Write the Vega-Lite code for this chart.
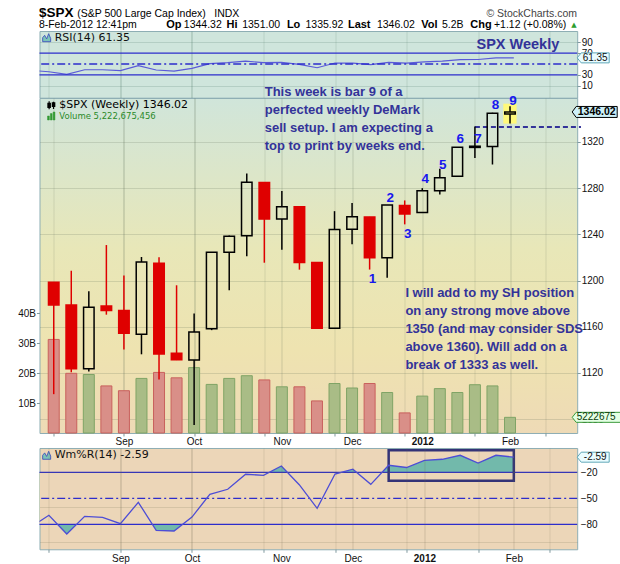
{
"$schema":"https://vega.github.io/schema/vega-lite/v6.json",
"usermeta":{"embedOptions":{"actions":false}},
"background":"#ffffff",
"padding":{"left":16.5,"top":5,"right":0,"bottom":0},
"config":{"view":{"stroke":"#8eaeb4"},"axis":{"labelFont":"Liberation Sans","labelFontSize":10,"labelColor":"#111111","tickColor":"#7f9a9f","tickSize":3,"labelPadding":1,"domain":false,"labelOverlap":false},"text":{"font":"Liberation Sans"},"point":{"opacity":1}},
"datasets":{
"weekly":[
{"date":"2011-08-08","open":1198.48,"high":1198.48,"low":1101.54,"close":1178.81,"volume":31200000000},
{"date":"2011-08-15","open":1178.86,"high":1208.47,"low":1120.5,"close":1123.53,"volume":19900000000},
{"date":"2011-08-22","open":1123.55,"high":1190.68,"low":1121.09,"close":1176.8,"volume":19500000000},
{"date":"2011-08-29","open":1177.91,"high":1230.71,"low":1170.4,"close":1173.97,"volume":15700000000},
{"date":"2011-09-05","open":1173.97,"high":1204.4,"low":1140.13,"close":1154.23,"volume":14100000000},
{"date":"2011-09-12","open":1153.5,"high":1220.39,"low":1136.07,"close":1216.01,"volume":18200000000},
{"date":"2011-09-19","open":1214.99,"high":1220.06,"low":1114.22,"close":1136.43,"volume":20200000000},
{"date":"2011-09-26","open":1136.91,"high":1195.86,"low":1131.07,"close":1131.42,"volume":18400000000},
{"date":"2011-10-03","open":1131.21,"high":1171.4,"low":1074.77,"close":1155.46,"volume":21800000000},
{"date":"2011-10-10","open":1158.15,"high":1224.61,"low":1157.0,"close":1224.58,"volume":16200000000},
{"date":"2011-10-17","open":1224.47,"high":1239.0,"low":1191.48,"close":1238.25,"volume":18200000000},
{"date":"2011-10-24","open":1238.72,"high":1292.66,"low":1221.0,"close":1285.09,"volume":19100000000},
{"date":"2011-10-31","open":1284.96,"high":1284.96,"low":1215.42,"close":1253.23,"volume":17700000000},
{"date":"2011-11-07","open":1253.21,"high":1277.55,"low":1226.64,"close":1263.85,"volume":15400000000},
{"date":"2011-11-14","open":1263.85,"high":1264.25,"low":1209.4,"close":1215.65,"volume":15400000000},
{"date":"2011-11-21","open":1215.62,"high":1215.62,"low":1158.66,"close":1158.67,"volume":10700000000},
{"date":"2011-11-28","open":1158.67,"high":1260.08,"low":1158.66,"close":1244.28,"volume":16500000000},
{"date":"2011-12-05","open":1244.33,"high":1267.06,"low":1231.47,"close":1255.19,"volume":15000000000},
{"date":"2011-12-12","open":1255.05,"high":1255.09,"low":1209.47,"close":1219.66,"volume":16500000000},
{"date":"2011-12-19","open":1219.74,"high":1265.42,"low":1202.37,"close":1265.33,"volume":13500000000},
{"date":"2011-12-26","open":1265.02,"high":1269.37,"low":1248.64,"close":1257.6,"volume":6700000000},
{"date":"2012-01-02","open":1258.86,"high":1280.0,"low":1258.86,"close":1277.81,"volume":12300000000},
{"date":"2012-01-09","open":1277.83,"high":1296.82,"low":1274.55,"close":1289.09,"volume":14800000000},
{"date":"2012-01-16","open":1290.22,"high":1315.49,"low":1290.22,"close":1315.38,"volume":13500000000},
{"date":"2012-01-23","open":1315.29,"high":1333.47,"low":1306.06,"close":1316.33,"volume":16100000000},
{"date":"2012-01-30","open":1316.16,"high":1345.34,"low":1300.49,"close":1344.9,"volume":15700000000},
{"date":"2012-02-06","open":1344.32,"high":1351.0,"low":1335.92,"close":1346.02,"volume":5222675456}
],
"ind":[
{"date":"2011-08-01","rsi":38.2,"wr":-83},
{"date":"2011-08-08","rsi":35.7,"wr":-69.6},
{"date":"2011-08-15","rsi":30.8,"wr":-91.2},
{"date":"2011-08-22","rsi":39.4,"wr":-70.8},
{"date":"2011-08-29","rsi":39.4,"wr":-71.9},
{"date":"2011-09-05","rsi":37.6,"wr":-79.3},
{"date":"2011-09-12","rsi":46.9,"wr":-54.6},
{"date":"2011-09-19","rsi":38.9,"wr":-86.9},
{"date":"2011-09-26","rsi":37.0,"wr":-87.7},
{"date":"2011-10-03","rsi":41.9,"wr":-71.6},
{"date":"2011-10-10","rsi":50.6,"wr":-45.4},
{"date":"2011-10-17","rsi":52.4,"wr":-39.6},
{"date":"2011-10-24","rsi":55.5,"wr":-22.3},
{"date":"2011-10-31","rsi":52.4,"wr":-23.5},
{"date":"2011-11-07","rsi":53.0,"wr":-12.7},
{"date":"2011-11-14","rsi":49.3,"wr":-34.3},
{"date":"2011-11-21","rsi":43.1,"wr":-61.5},
{"date":"2011-11-28","rsi":51.8,"wr":-22.0},
{"date":"2011-12-05","rsi":51.8,"wr":-16.5},
{"date":"2011-12-12","rsi":48.7,"wr":-33.9},
{"date":"2011-12-19","rsi":53.0,"wr":-11.9},
{"date":"2011-12-26","rsi":51.8,"wr":-14.5},
{"date":"2012-01-02","rsi":54.0,"wr":-6.2},
{"date":"2012-01-09","rsi":55.5,"wr":-5.0},
{"date":"2012-01-16","rsi":58.0,"wr":-0.4},
{"date":"2012-01-23","rsi":58.3,"wr":-9.3},
{"date":"2012-01-30","rsi":61.5,"wr":-0.4},
{"date":"2012-02-06","rsi":61.35,"wr":-2.59}
],
"counts":[
{"date":"2011-12-12","y":1201,"n":"1"},
{"date":"2011-12-19","y":1271.5,"n":"2"},
{"date":"2011-12-26","y":1240,"n":"3"},
{"date":"2012-01-02","y":1287.7,"n":"4"},
{"date":"2012-01-09","y":1300.3,"n":"5"},
{"date":"2012-01-16","y":1322.9,"n":"6"},
{"date":"2012-01-23","y":1322.9,"n":"7"},
{"date":"2012-01-30","y":1351.8,"n":"8"},
{"date":"2012-02-06","y":1355.5,"n":"9"}
]
},
"bounds":"full",
"spacing":-3,
"vconcat":[
{"bounds":"flush","spacing":0,"vconcat":[
{
"width":537.7,"height":66.7,
"view":{"fill":"#cfe5dc","stroke":"#8eaeb4"},
"data":{"name":"ind"},
"resolve":{"axis":{"y":"independent"}},
"layer":[
{"layer":[
{"mark":{"type":"line","color":"#5a5ad8","strokeWidth":1.2,"clip":true},
 "encoding":{
  "x":{"field":"date","type":"temporal","scale":{"type":"utc","nice":false,"domain":[{"year":2011,"month":8,"date":4,"hours":7,"minutes":40,"utc":true},{"year":2012,"month":3,"date":1,"hours":19,"minutes":12,"utc":true}]},
   "axis":{"title":null,"labels":false,"ticks":false,"domain":false,"grid":true,
    "values":[{"year":2011,"month":8,"date":8,"utc":true},{"year":2011,"month":8,"date":15,"utc":true},{"year":2011,"month":8,"date":22,"utc":true},{"year":2011,"month":8,"date":29,"utc":true},{"year":2011,"month":9,"date":5,"utc":true},{"year":2011,"month":9,"date":12,"utc":true},{"year":2011,"month":9,"date":19,"utc":true},{"year":2011,"month":9,"date":26,"utc":true},{"year":2011,"month":10,"date":3,"utc":true},{"year":2011,"month":10,"date":10,"utc":true},{"year":2011,"month":10,"date":17,"utc":true},{"year":2011,"month":10,"date":24,"utc":true},{"year":2011,"month":10,"date":31,"utc":true},{"year":2011,"month":11,"date":7,"utc":true},{"year":2011,"month":11,"date":14,"utc":true},{"year":2011,"month":11,"date":21,"utc":true},{"year":2011,"month":11,"date":28,"utc":true},{"year":2011,"month":12,"date":5,"utc":true},{"year":2011,"month":12,"date":12,"utc":true},{"year":2011,"month":12,"date":19,"utc":true},{"year":2011,"month":12,"date":26,"utc":true},{"year":2012,"month":1,"date":2,"utc":true},{"year":2012,"month":1,"date":9,"utc":true},{"year":2012,"month":1,"date":16,"utc":true},{"year":2012,"month":1,"date":23,"utc":true},{"year":2012,"month":1,"date":30,"utc":true},{"year":2012,"month":2,"date":6,"utc":true},{"year":2012,"month":2,"date":13,"utc":true},{"year":2012,"month":2,"date":20,"utc":true},{"year":2012,"month":2,"date":27,"utc":true}],
    "gridColor":{"condition":{"test":"utcdate(datum.value) <= 7","value":"rgba(70,110,95,0.38)"},"value":"rgba(70,110,95,0.17)"}}},
  "y":{"field":"rsi","type":"quantitative","scale":{"domain":[-12.4,111.1],"nice":false,"zero":false},
   "axis":{"orient":"right","title":null,"values":[10,50,90],"grid":true,"gridColor":"rgba(70,110,95,0.2)","tickSize":3,"labelPadding":1,"maxExtent":0,"minExtent":0}}
 }},
{"data":{"values":[{}]},"mark":{"type":"rule","color":"#2d2dcc","strokeWidth":1.3},"encoding":{"y":{"datum":70}}},
{"data":{"values":[{}]},"mark":{"type":"rule","color":"#2d2dcc","strokeWidth":1.3,"strokeDash":[8,3,2,3]},"encoding":{"y":{"datum":50}}},
{"data":{"values":[{}]},"mark":{"type":"text","text":"SPX Weekly","fontSize":14.5,"fontWeight":"bold","color":"#333399","align":"center","baseline":"middle"},"encoding":{"x":{"datum":{"year":2012,"month":2,"date":7,"hours":14,"utc":true},"type":"temporal"},"y":{"datum":85.2}}},
{"data":{"values":[{}]},"mark":{"type":"point","shape":"M-1,1L-1,0L-0.5,-0.6L0,0.3L0.5,-1L1,0.2L1,1Z","size":64,"filled":true,"fill":"#7cc4b8","stroke":"#3344bb","strokeWidth":0.8,"opacity":1},"encoding":{"x":{"datum":{"year":2011,"month":8,"date":7,"hours":3,"utc":true},"type":"temporal"},"y":{"datum":98.7}}},
{"data":{"values":[{}]},"mark":{"type":"text","text":"RSI(14) 61.35","font":"DejaVu Sans","fontSize":11,"color":"#111111","align":"left","baseline":"middle"},"encoding":{"x":{"datum":{"year":2011,"month":8,"date":10,"hours":6,"utc":true},"type":"temporal"},"y":{"datum":98.7}}},
{"data":{"values":[{}]},"mark":{"type":"text","text":"$SPX","fontSize":13.5,"fontWeight":"bold","color":"#000000","align":"left","baseline":"alphabetic"},"encoding":{"x":{"datum":{"year":2011,"month":8,"date":4,"hours":2,"utc":true},"type":"temporal"},"y":{"datum":136.3}}},
{"data":{"values":[{}]},"mark":{"type":"text","text":"(S&P 500 Large Cap Index)","fontSize":10.5,"color":"#000000","align":"left","baseline":"alphabetic"},"encoding":{"x":{"datum":{"year":2011,"month":8,"date":19,"hours":2,"utc":true},"type":"temporal"},"y":{"datum":136.3}}},
{"data":{"values":[{}]},"mark":{"type":"text","text":"INDX","fontSize":10.5,"color":"#000000","align":"left","baseline":"alphabetic"},"encoding":{"x":{"datum":{"year":2011,"month":10,"date":11,"hours":18,"utc":true},"type":"temporal"},"y":{"datum":136.3}}},
{"data":{"values":[{}]},"mark":{"type":"text","text":"© StockCharts.com","fontSize":10.5,"color":"#444444","align":"right","baseline":"alphabetic"},"encoding":{"x":{"datum":{"year":2012,"month":3,"date":1,"hours":17,"utc":true},"type":"temporal"},"y":{"datum":136.3}}},
{"data":{"values":[{}]},"mark":{"type":"text","text":"8-Feb-2012 12:41pm","fontSize":10.5,"color":"#000000","align":"left","baseline":"alphabetic"},"encoding":{"x":{"datum":{"year":2011,"month":8,"date":4,"hours":2,"utc":true},"type":"temporal"},"y":{"datum":116.3}}},
{"data":{"values":[{}]},"mark":{"type":"text","text":"Op","fontSize":11,"fontWeight":"bold","color":"#000000","align":"left","baseline":"alphabetic"},"encoding":{"x":{"datum":{"year":2011,"month":9,"date":22,"hours":22,"utc":true},"type":"temporal"},"y":{"datum":116.3}}},
{"data":{"values":[{}]},"mark":{"type":"text","text":"1344.32","fontSize":10.5,"color":"#000000","align":"left","baseline":"alphabetic"},"encoding":{"x":{"datum":{"year":2011,"month":9,"date":29,"hours":20,"utc":true},"type":"temporal"},"y":{"datum":116.3}}},
{"data":{"values":[{}]},"mark":{"type":"text","text":"Hi","fontSize":11,"fontWeight":"bold","color":"#000000","align":"left","baseline":"alphabetic"},"encoding":{"x":{"datum":{"year":2011,"month":10,"date":16,"hours":12,"utc":true},"type":"temporal"},"y":{"datum":116.3}}},
{"data":{"values":[{}]},"mark":{"type":"text","text":"1351.00","fontSize":10.5,"color":"#000000","align":"left","baseline":"alphabetic"},"encoding":{"x":{"datum":{"year":2011,"month":10,"date":22,"hours":16,"utc":true},"type":"temporal"},"y":{"datum":116.3}}},
{"data":{"values":[{}]},"mark":{"type":"text","text":"Lo","fontSize":11,"fontWeight":"bold","color":"#000000","align":"left","baseline":"alphabetic"},"encoding":{"x":{"datum":{"year":2011,"month":11,"date":9,"hours":4,"utc":true},"type":"temporal"},"y":{"datum":116.3}}},
{"data":{"values":[{}]},"mark":{"type":"text","text":"1335.92","fontSize":10.5,"color":"#000000","align":"left","baseline":"alphabetic"},"encoding":{"x":{"datum":{"year":2011,"month":11,"date":16,"hours":11,"utc":true},"type":"temporal"},"y":{"datum":116.3}}},
{"data":{"values":[{}]},"mark":{"type":"text","text":"Last","fontSize":11,"fontWeight":"bold","color":"#000000","align":"left","baseline":"alphabetic"},"encoding":{"x":{"datum":{"year":2011,"month":12,"date":3,"hours":1,"minutes":30,"utc":true},"type":"temporal"},"y":{"datum":116.3}}},
{"data":{"values":[{}]},"mark":{"type":"text","text":"1346.02","fontSize":10.5,"color":"#000000","align":"left","baseline":"alphabetic"},"encoding":{"x":{"datum":{"year":2011,"month":12,"date":14,"hours":10,"utc":true},"type":"temporal"},"y":{"datum":116.3}}},
{"data":{"values":[{}]},"mark":{"type":"text","text":"Vol","fontSize":11,"fontWeight":"bold","color":"#000000","align":"left","baseline":"alphabetic"},"encoding":{"x":{"datum":{"year":2011,"month":12,"date":31,"hours":18,"utc":true},"type":"temporal"},"y":{"datum":116.3}}},
{"data":{"values":[{}]},"mark":{"type":"text","text":"5.2B","fontSize":10.5,"color":"#000000","align":"left","baseline":"alphabetic"},"encoding":{"x":{"datum":{"year":2012,"month":1,"date":8,"hours":20,"minutes":40,"utc":true},"type":"temporal"},"y":{"datum":116.3}}},
{"data":{"values":[{}]},"mark":{"type":"text","text":"Chg","fontSize":11,"fontWeight":"bold","color":"#000000","align":"left","baseline":"alphabetic"},"encoding":{"x":{"datum":{"year":2012,"month":1,"date":19,"hours":22,"minutes":30,"utc":true},"type":"temporal"},"y":{"datum":116.3}}},
{"data":{"values":[{}]},"mark":{"type":"text","text":"+1.12 (+0.08%)","fontSize":10.5,"color":"#000000","align":"left","baseline":"alphabetic"},"encoding":{"x":{"datum":{"year":2012,"month":1,"date":29,"hours":5,"utc":true},"type":"temporal"},"y":{"datum":116.3}}},
{"data":{"values":[{}]},"mark":{"type":"text","text":"▲","font":"DejaVu Sans","fontSize":7,"color":"#2e9e2e","align":"center","baseline":"middle"},"encoding":{"x":{"datum":{"year":2012,"month":2,"date":29,"hours":12,"utc":true},"type":"temporal"},"y":{"datum":122.8}}}
]},
{"data":{"values":[{}]},"mark":{"type":"rule","color":"#2d2dcc","strokeWidth":1.3},
 "encoding":{"y":{"datum":30,"type":"quantitative","axis":{"orient":"right","title":null,"values":[30,70],"grid":false,"tickSize":3,"labelPadding":1}}}},
{"data":{"values":[{}]},"mark":{"type":"point","shape":"M0,0L0.25,-0.3125L2,-0.3125L2,0.3125L0.25,0.3125Z","size":1024,"filled":true,"fill":"#eafcff","stroke":"#5fa8b8","strokeWidth":1,"opacity":1},"encoding":{"x":{"datum":{"year":2012,"month":3,"date":1,"hours":19,"minutes":12,"utc":true},"type":"temporal"},"y":{"datum":61.35,"type":"quantitative","axis":null}}},
{"data":{"values":[{}]},"mark":{"type":"text","text":"61.35","fontSize":10,"color":"#111111","align":"center","baseline":"middle","dx":18},"encoding":{"x":{"datum":{"year":2012,"month":3,"date":1,"hours":19,"minutes":12,"utc":true},"type":"temporal"},"y":{"datum":61.35,"type":"quantitative","axis":null}}}
]
},
{
"width":537.7,"height":335,
"view":{"stroke":"#8eaeb4","fill":{"gradient":"linear","x1":0,"y1":0,"x2":0,"y2":1,"stops":[{"offset":0,"color":"#d0e5da"},{"offset":0.45,"color":"#e8e7b8"},{"offset":0.75,"color":"#eee3b0"},{"offset":1,"color":"#eedab6"}]}},
"resolve":{"scale":{"y":"independent"},"axis":{"x":"independent"}},
"layer":[
{"data":{"name":"weekly"},"layer":[
 {"mark":{"type":"bar","width":11,"strokeWidth":1},
  "encoding":{
   "x":{"field":"date","type":"temporal","scale":{"type":"utc","nice":false,"domain":[{"year":2011,"month":8,"date":4,"hours":7,"minutes":40,"utc":true},{"year":2012,"month":3,"date":1,"hours":19,"minutes":12,"utc":true}]},
    "axis":{"orient":"bottom","title":null,"domain":false,"grid":true,"labels":false,"ticks":true,"tickSize":3,"maxExtent":0,"minExtent":0,
     "values":[{"year":2011,"month":8,"date":8,"utc":true},{"year":2011,"month":8,"date":15,"utc":true},{"year":2011,"month":8,"date":22,"utc":true},{"year":2011,"month":8,"date":29,"utc":true},{"year":2011,"month":9,"date":5,"utc":true},{"year":2011,"month":9,"date":12,"utc":true},{"year":2011,"month":9,"date":19,"utc":true},{"year":2011,"month":9,"date":26,"utc":true},{"year":2011,"month":10,"date":3,"utc":true},{"year":2011,"month":10,"date":10,"utc":true},{"year":2011,"month":10,"date":17,"utc":true},{"year":2011,"month":10,"date":24,"utc":true},{"year":2011,"month":10,"date":31,"utc":true},{"year":2011,"month":11,"date":7,"utc":true},{"year":2011,"month":11,"date":14,"utc":true},{"year":2011,"month":11,"date":21,"utc":true},{"year":2011,"month":11,"date":28,"utc":true},{"year":2011,"month":12,"date":5,"utc":true},{"year":2011,"month":12,"date":12,"utc":true},{"year":2011,"month":12,"date":19,"utc":true},{"year":2011,"month":12,"date":26,"utc":true},{"year":2012,"month":1,"date":2,"utc":true},{"year":2012,"month":1,"date":9,"utc":true},{"year":2012,"month":1,"date":16,"utc":true},{"year":2012,"month":1,"date":23,"utc":true},{"year":2012,"month":1,"date":30,"utc":true},{"year":2012,"month":2,"date":6,"utc":true},{"year":2012,"month":2,"date":13,"utc":true},{"year":2012,"month":2,"date":20,"utc":true},{"year":2012,"month":2,"date":27,"utc":true}],
     "gridColor":"rgba(90,105,85,0.16)"}},
   "y":{"field":"volume","type":"quantitative","scale":{"domain":[0,111700000000],"nice":false},
    "axis":{"orient":"left","title":null,"grid":false,"values":[10000000000,20000000000,30000000000,40000000000],"labelExpr":"(datum.value/1e9) + 'B'","tickSize":3,"labelPadding":1}},
   "fill":{"condition":{"test":"datum.close < datum.open","value":"#d98f88"},"value":"#a9bc86"},
   "stroke":{"condition":{"test":"datum.close < datum.open","value":"#c9605c"},"value":"#80a465"}
  }},
 {"data":{"values":[{}]},"mark":{"type":"point","shape":"M0,0L0.16,-0.2L2,-0.2L2,0.2L0.16,0.2Z","size":2500,"filled":true,"fill":"#e4ffe4","stroke":"#3a9a3a","strokeWidth":1,"opacity":1},"encoding":{"x":{"datum":{"year":2012,"month":3,"date":1,"hours":19,"minutes":12,"utc":true},"type":"temporal"},"y":{"datum":5222675456}}},
 {"data":{"values":[{}]},"mark":{"type":"text","text":"5222675","fontSize":10,"color":"#0a3a0a","align":"left","baseline":"middle","dx":4.5},"encoding":{"x":{"datum":{"year":2012,"month":3,"date":1,"hours":19,"minutes":12,"utc":true},"type":"temporal"},"y":{"datum":5222675456}}}
]},
{"layer":[
 {"data":{"values":[{}]},"mark":{"type":"rect","color":"#fff97a"},"encoding":{"x":{"datum":{"year":2012,"month":2,"date":3,"hours":7,"minutes":30,"utc":true},"type":"temporal"},"x2":{"datum":{"year":2012,"month":2,"date":8,"hours":15,"utc":true}},"y":{"datum":1353.2,"type":"quantitative"},"y2":{"datum":1335.9}}},
 {"data":{"values":[{}]},"mark":{"type":"rule","color":"#333399","strokeWidth":2,"strokeDash":[5,3]},"encoding":{"x":{"datum":{"year":2012,"month":1,"date":23,"utc":true},"type":"temporal"},"x2":{"datum":{"year":2012,"month":3,"date":5,"hours":7,"utc":true}},"y":{"datum":1333,"type":"quantitative"}}},
 {"data":{"name":"weekly"},"mark":{"type":"rule","strokeWidth":1.5},
  "encoding":{
   "x":{"field":"date","type":"temporal",
    "axis":{"orient":"bottom","title":null,"domain":false,"grid":true,"ticks":false,"labelPadding":4,"labelFlush":false,"labelOverlap":false,
     "values":[{"year":2011,"month":9,"date":5,"utc":true},{"year":2011,"month":10,"date":3,"utc":true},{"year":2011,"month":11,"date":7,"utc":true},{"year":2011,"month":12,"date":5,"utc":true},{"year":2012,"month":1,"date":2,"utc":true},{"year":2012,"month":2,"date":6,"utc":true}],
     "labelExpr":"utcmonth(datum.value) == 0 ? utcFormat(datum.value, '%Y') : utcFormat(datum.value, '%b')",
     "labelFontWeight":{"condition":{"test":"utcmonth(datum.value) == 0","value":"bold"},"value":"normal"},
     "gridColor":"rgba(90,105,85,0.24)"}},
   "y":{"field":"high","type":"quantitative","scale":{"domain":[1067.9,1358.1],"nice":false,"zero":false},
    "axis":{"orient":"right","title":null,"grid":true,"format":"d","gridColor":"rgba(90,105,85,0.2)","values":[1080,1100,1120,1140,1160,1180,1200,1220,1240,1260,1280,1300,1320,1340],"tickSize":3,"labelPadding":1}},
   "y2":{"field":"close"},
   "color":{"condition":{"test":"datum.close < datum.open","value":"#df0000"},"value":"#000000"}}},
 {"data":{"name":"weekly"},"mark":{"type":"rule","strokeWidth":1.5},
  "encoding":{
   "x":{"field":"date","type":"temporal"},
   "y":{"field":"low","type":"quantitative"},
   "y2":{"field":"open"},
   "color":{"condition":{"test":"datum.close < datum.open","value":"#df0000"},"value":"#000000"}}},
 {"data":{"name":"weekly"},"mark":{"type":"bar","width":10.5,"strokeWidth":1.5},
  "encoding":{
   "x":{"field":"date","type":"temporal"},
   "y":{"field":"open","type":"quantitative"},
   "y2":{"field":"close"},
   "fill":{"condition":{"test":"datum.close < datum.open","value":"#df0000"},"value":"transparent"},
   "stroke":{"condition":{"test":"datum.close < datum.open","value":"#df0000"},"value":"#000000"}}},
 {"data":{"name":"counts"},"mark":{"type":"text","fontSize":13.5,"fontWeight":"bold","color":"#1818ee","align":"center","baseline":"middle","dx":3},
  "encoding":{"x":{"field":"date","type":"temporal"},"y":{"field":"y","type":"quantitative"},"text":{"field":"n"}}},
 {"data":{"values":[{}]},"mark":{"type":"text","text":["This week is bar 9 of a","perfected weekly DeMark","sell setup. I am expecting a","top to print by weeks end."],"fontSize":13,"fontWeight":"bold","color":"#333399","align":"left","baseline":"top","lineHeight":18},"encoding":{"x":{"datum":{"year":2011,"month":10,"date":31,"hours":4,"utc":true},"type":"temporal"},"y":{"datum":1368.2}}},
 {"data":{"values":[{}]},"mark":{"type":"text","text":["I will add to my SH position","on any strong move above","1350 (and may consider SDS","above 1360). Will add on a","break of 1333 as well."],"fontSize":13,"fontWeight":"bold","color":"#333399","align":"left","baseline":"top","lineHeight":18},"encoding":{"x":{"datum":{"year":2011,"month":12,"date":26,"hours":6,"minutes":30,"utc":true},"type":"temporal"},"y":{"datum":1194.1}}},
 {"data":{"values":[{}]},"mark":{"type":"point","shape":"M-0.6,-1V1M-0.9,-0.5H-0.3V0.5H-0.9ZM0.5,-0.9V0.9M0.2,-0.6H0.8V0.3H0.2Z","size":64,"filled":false,"stroke":"#000000","strokeWidth":1.2,"opacity":1},"encoding":{"x":{"datum":{"year":2011,"month":8,"date":7,"hours":3,"utc":true},"type":"temporal"},"y":{"datum":1351.8}}},
 {"data":{"values":[{}]},"mark":{"type":"text","text":"$SPX (Weekly) 1346.02","font":"DejaVu Sans","fontSize":11,"color":"#000000","align":"left","baseline":"middle"},"encoding":{"x":{"datum":{"year":2011,"month":8,"date":10,"hours":6,"utc":true},"type":"temporal"},"y":{"datum":1351.8}}},
 {"data":{"values":[{}]},"mark":{"type":"point","shape":"M-1,1V0H-0.55V1ZM-0.3,1V-0.6H0.15V1ZM0.4,1V-1H0.85V1Z","size":64,"filled":true,"fill":"#339933","stroke":"#339933","strokeWidth":0.5,"opacity":1},"encoding":{"x":{"datum":{"year":2011,"month":8,"date":7,"hours":3,"utc":true},"type":"temporal"},"y":{"datum":1342.5}}},
 {"data":{"values":[{}]},"mark":{"type":"text","text":"Volume 5,222,675,456","font":"DejaVu Sans","fontSize":8.5,"color":"#2a8a2a","align":"left","baseline":"middle"},"encoding":{"x":{"datum":{"year":2011,"month":8,"date":10,"hours":6,"utc":true},"type":"temporal"},"y":{"datum":1342.5}}},
 {"data":{"values":[{}]},"mark":{"type":"point","shape":"M0,0L0.178,-0.244L2,-0.244L2,0.244L0.178,0.244Z","size":2025,"filled":true,"fill":"#cdf0f8","stroke":"#000000","strokeWidth":1,"opacity":1},"encoding":{"x":{"datum":{"year":2012,"month":3,"date":1,"hours":19,"minutes":12,"utc":true},"type":"temporal"},"y":{"datum":1346.02}}},
 {"data":{"values":[{}]},"mark":{"type":"text","text":"1346.02","fontSize":10.5,"fontWeight":"bold","color":"#000000","align":"center","baseline":"middle","dx":24.5},"encoding":{"x":{"datum":{"year":2012,"month":3,"date":1,"hours":19,"minutes":12,"utc":true},"type":"temporal"},"y":{"datum":1346.02}}}
]}
]
}
]},
{
"width":537.7,"height":101.3,
"view":{"fill":"#ecd6b8","stroke":"#8eaeb4"},
"data":{"name":"ind"},
"resolve":{"axis":{"x":"independent","y":"independent"}},
"layer":[
{"layer":[
{"mark":{"type":"area","color":"#72b9ab","clip":true,"opacity":1},
 "encoding":{
  "x":{"field":"date","type":"temporal","scale":{"type":"utc","nice":false,"domain":[{"year":2011,"month":8,"date":4,"hours":7,"minutes":40,"utc":true},{"year":2012,"month":3,"date":1,"hours":19,"minutes":12,"utc":true}]},
   "axis":{"orient":"bottom","title":null,"domain":false,"grid":true,"labels":false,"ticks":true,"tickSize":3,"maxExtent":0,"minExtent":0,"zindex":1,
    "values":[{"year":2011,"month":8,"date":8,"utc":true},{"year":2011,"month":8,"date":15,"utc":true},{"year":2011,"month":8,"date":22,"utc":true},{"year":2011,"month":8,"date":29,"utc":true},{"year":2011,"month":9,"date":5,"utc":true},{"year":2011,"month":9,"date":12,"utc":true},{"year":2011,"month":9,"date":19,"utc":true},{"year":2011,"month":9,"date":26,"utc":true},{"year":2011,"month":10,"date":3,"utc":true},{"year":2011,"month":10,"date":10,"utc":true},{"year":2011,"month":10,"date":17,"utc":true},{"year":2011,"month":10,"date":24,"utc":true},{"year":2011,"month":10,"date":31,"utc":true},{"year":2011,"month":11,"date":7,"utc":true},{"year":2011,"month":11,"date":14,"utc":true},{"year":2011,"month":11,"date":21,"utc":true},{"year":2011,"month":11,"date":28,"utc":true},{"year":2011,"month":12,"date":5,"utc":true},{"year":2011,"month":12,"date":12,"utc":true},{"year":2011,"month":12,"date":19,"utc":true},{"year":2011,"month":12,"date":26,"utc":true},{"year":2012,"month":1,"date":2,"utc":true},{"year":2012,"month":1,"date":9,"utc":true},{"year":2012,"month":1,"date":16,"utc":true},{"year":2012,"month":1,"date":23,"utc":true},{"year":2012,"month":1,"date":30,"utc":true},{"year":2012,"month":2,"date":6,"utc":true},{"year":2012,"month":2,"date":13,"utc":true},{"year":2012,"month":2,"date":20,"utc":true},{"year":2012,"month":2,"date":27,"utc":true}],
    "gridColor":"rgba(110,105,80,0.16)"}},
  "y":{"field":"wr","type":"quantitative","scale":{"domain":[-108.8,8],"nice":false,"zero":false},
   "axis":{"orient":"right","title":null,"grid":true,"labels":false,"ticks":false,"maxExtent":0,"minExtent":0,"gridColor":"rgba(110,105,80,0.18)","values":[-100,-90,-80,-70,-60,-50,-40,-30,-20,-10,0],"zindex":1}},
  "y2":{"datum":-20}
 }},
{"data":{"values":[{}]},"mark":{"type":"rect","color":"#ecd6b8"},"encoding":{"y":{"datum":-20},"y2":{"datum":-80}}},
{"data":{"values":[{}]},"mark":{"type":"rule","color":"#2d2dcc","strokeWidth":1.3},"encoding":{"y":{"datum":-20}}},
{"data":{"values":[{}]},"mark":{"type":"rule","color":"#2d2dcc","strokeWidth":1.3},"encoding":{"y":{"datum":-80}}},
{"data":{"values":[{}]},"mark":{"type":"rule","color":"#2d2dcc","strokeWidth":1.3,"strokeDash":[8,3,2,3]},"encoding":{"y":{"datum":-50}}},
{"data":{"values":[{}]},"mark":{"type":"rect","fill":"transparent","stroke":"#333377","strokeWidth":2.5},"encoding":{"x":{"datum":{"year":2011,"month":12,"date":19,"utc":true},"type":"temporal"},"x2":{"datum":{"year":2012,"month":2,"date":6,"utc":true}},"y":{"datum":5.4},"y2":{"datum":-29.7}}},
{"data":{"values":[{}]},"mark":{"type":"point","shape":"M-1,1L-1,0L-0.5,-0.6L0,0.3L0.5,-1L1,0.2L1,1Z","size":64,"filled":true,"fill":"#7cc4b8","stroke":"#3344bb","strokeWidth":0.8,"opacity":1},"encoding":{"x":{"datum":{"year":2011,"month":8,"date":7,"hours":3,"utc":true},"type":"temporal"},"y":{"datum":-0.4}}},
{"data":{"values":[{}]},"mark":{"type":"text","text":"Wm%R(14) -2.59","font":"DejaVu Sans","fontSize":11,"color":"#111111","align":"left","baseline":"middle"},"encoding":{"x":{"datum":{"year":2011,"month":8,"date":10,"hours":6,"utc":true},"type":"temporal"},"y":{"datum":-0.4}}},
{"data":{"values":[{}]},"mark":{"type":"point","shape":"M0,0L0.25,-0.3125L2,-0.3125L2,0.3125L0.25,0.3125Z","size":1024,"filled":true,"fill":"#eafcff","stroke":"#5fa8b8","strokeWidth":1,"opacity":1},"encoding":{"x":{"datum":{"year":2012,"month":3,"date":1,"hours":19,"minutes":12,"utc":true},"type":"temporal"},"y":{"datum":-2.59}}},
{"data":{"values":[{}]},"mark":{"type":"text","text":"-2.59","fontSize":10,"color":"#111111","align":"center","baseline":"middle","dx":18},"encoding":{"x":{"datum":{"year":2012,"month":3,"date":1,"hours":19,"minutes":12,"utc":true},"type":"temporal"},"y":{"datum":-2.59}}}
]},
{"mark":{"type":"line","color":"#4d4dd6","strokeWidth":1.3,"clip":true},
 "encoding":{
  "x":{"field":"date","type":"temporal",
   "axis":{"orient":"bottom","title":null,"domain":false,"grid":true,"ticks":false,"labelPadding":4,"labelFlush":false,"labelOverlap":false,"zindex":1,
    "values":[{"year":2011,"month":9,"date":5,"utc":true},{"year":2011,"month":10,"date":3,"utc":true},{"year":2011,"month":11,"date":7,"utc":true},{"year":2011,"month":12,"date":5,"utc":true},{"year":2012,"month":1,"date":2,"utc":true},{"year":2012,"month":2,"date":6,"utc":true}],
    "labelExpr":"utcmonth(datum.value) == 0 ? utcFormat(datum.value, '%Y') : utcFormat(datum.value, '%b')",
    "labelFontWeight":{"condition":{"test":"utcmonth(datum.value) == 0","value":"bold"},"value":"normal"},
    "gridColor":"rgba(110,105,80,0.24)"}},
  "y":{"field":"wr","type":"quantitative",
   "axis":{"orient":"right","title":null,"grid":false,"ticks":false,"labelPadding":3,"labelOverlap":false,"values":[-80,-50,-20],"zindex":1}}
 }}
]
}
]
}
